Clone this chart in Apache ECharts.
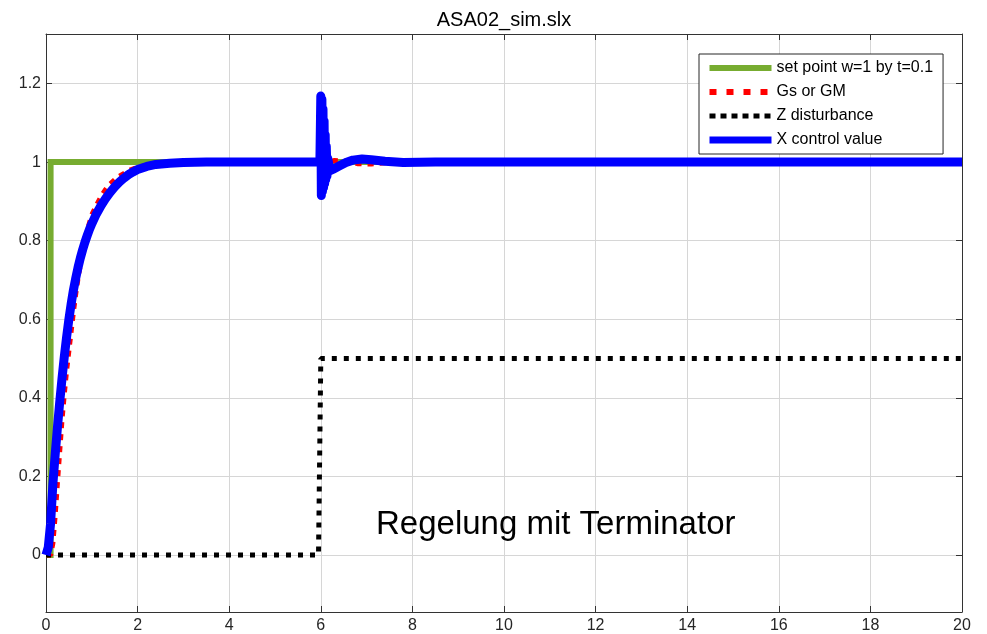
<!DOCTYPE html>
<html>
<head>
<meta charset="utf-8">
<title>ASA02_sim.slx</title>
<script src="https://cdn.jsdelivr.net/npm/echarts@6/dist/echarts.min.js"></script>
<style>
  html, body { margin: 0; padding: 0; background: #fff; }
  #chart { width: 987px; height: 634px; }
</style>
</head>
<body>
<div id="chart"></div>
<script>
// Simulation traces of ASA02_sim.slx (time in seconds)

// set point: unit step at t = 0.1
const setPointT = [0, 0.1, 0.1, 20];
const setPointV = [0, 0, 1, 1];

// reference model response Gs / GM
const gsT = [0, 0.1, 0.15, 0.2, 0.25, 0.3, 0.35, 0.4, 0.45, 0.5, 0.55, 0.6, 0.65, 0.7, 0.8, 0.9, 1.0, 1.1, 1.2, 1.3, 1.4, 1.5, 1.6, 1.8, 2.0, 2.3, 2.6, 3.0, 3.5, 4.0,
             5.98, 6.05, 6.1, 6.3, 6.5, 6.8, 7.1, 7.5, 8.0, 20];
const gsV = [0, 0, 0.03, 0.1, 0.185, 0.265, 0.345, 0.41, 0.47, 0.52, 0.57, 0.62, 0.665, 0.705, 0.772, 0.826, 0.866, 0.89, 0.912, 0.93, 0.944, 0.955, 0.964, 0.978, 0.987, 0.993, 0.996, 0.998, 0.999, 1,
             1, 0.995, 0.998, 1.004, 1.003, 0.996, 0.995, 0.999, 1, 1];

// disturbance Z: step of 0.5 at t = 6
const distT = [0, 5.95, 6.0, 20];
const distV = [0, 0, 0.5, 0.5];

// controlled variable X
const ctrlT = [0, 0.05, 0.1, 0.15, 0.2, 0.25, 0.3, 0.35, 0.4, 0.45, 0.5, 0.55, 0.6, 0.65, 0.7, 0.75, 0.8, 0.85, 0.9, 0.95, 1.0,
               1.1, 1.2, 1.3, 1.4, 1.5, 1.6, 1.7, 1.8, 1.9, 2.0, 2.2, 2.4, 2.7, 3.0, 3.5, 4.0, 5.0, 5.98,
               6.0, 6.012, 6.024, 6.036, 6.048, 6.06, 6.072, 6.084, 6.096, 6.108, 6.12, 6.135, 6.15,
               6.2, 6.27, 6.4, 6.55, 6.7, 6.9, 7.1, 7.4, 7.8, 8.5, 20];
const ctrlV = [0, 0.02, 0.08, 0.18, 0.255, 0.325, 0.39, 0.45, 0.505, 0.555, 0.6, 0.64, 0.675, 0.705, 0.732, 0.756, 0.777, 0.796, 0.813, 0.829, 0.843,
               0.868, 0.889, 0.907, 0.923, 0.937, 0.949, 0.959, 0.968, 0.975, 0.981, 0.989, 0.994, 0.997, 0.999, 1.0, 1.0, 1.0, 1.0,
               1.168, 0.915, 1.16, 0.925, 1.135, 0.935, 1.105, 0.945, 1.07, 0.955, 1.04, 0.965, 1.01,
               0.978, 0.982, 0.99, 0.999, 1.005, 1.008, 1.006, 1.002, 0.999, 1.0, 1.0];

const xTickStep = 2;
const yTickStep = 0.2;

const zip = (t, v) => t.map((x, i) => [x, v[i]]);

const FONT = "'Liberation Sans', Arial, Helvetica, sans-serif";
const AXIS_COLOR = '#333333';
const TEXT_COLOR = '#262626';
const GRID_COLOR = '#d6d6d6';

const GREEN = '#77AC30';
const RED = '#FF0000';
const BLACK = '#000000';
const BLUE = '#0000FF';

const chart = echarts.init(document.getElementById('chart'), null, { renderer: 'canvas' });

// only label the 0.2 steps, not the axis extents
const yLabel = v => {
  const k = v / yTickStep;
  if (Math.abs(k - Math.round(k)) > 1e-6) return '';
  return String(Number(v.toFixed(1)));
};

const option = {
  animation: false,
  backgroundColor: '#ffffff',
  textStyle: { fontFamily: FONT },
  grid: { left: 46, right: 25, top: 34, bottom: 22, containLabel: false },
  legend: {
    orient: 'vertical',
    left: 699,
    top: 54,
    itemWidth: 62,
    itemHeight: 14,
    itemGap: 8,
    padding: [6, 10, 6, 7],
    backgroundColor: '#ffffff',
    borderColor: '#262626',
    borderWidth: 1,
    borderRadius: 0,
    itemStyle: { opacity: 0, borderWidth: 0 },
    textStyle: { fontFamily: FONT, fontSize: 16, color: '#000000' },
    data: [
      { name: 'set point w=1 by t=0.1', lineStyle: { color: GREEN, width: 6, type: 'solid', cap: 'butt' } },
      { name: 'Gs or GM', lineStyle: { color: RED, width: 6, type: [7, 10], cap: 'butt' } },
      { name: 'Z disturbance', lineStyle: { color: BLACK, width: 5, type: [6, 5], cap: 'butt' } },
      { name: 'X control value', lineStyle: { color: BLUE, width: 7, type: 'solid', cap: 'butt' } }
    ]
  },
  xAxis: [
    {
      type: 'value', min: 0, max: 20, interval: xTickStep, position: 'bottom',
      axisLine: { show: true, onZero: false, lineStyle: { color: AXIS_COLOR, width: 1 } },
      axisTick: { show: true, inside: true, length: 6, lineStyle: { color: AXIS_COLOR } },
      axisLabel: { color: TEXT_COLOR, fontSize: 16, fontFamily: FONT, margin: 6 },
      splitLine: { show: true, lineStyle: { color: GRID_COLOR, width: 1 } }
    },
    {
      type: 'value', min: 0, max: 20, interval: xTickStep, position: 'top',
      axisLine: { show: true, onZero: false, lineStyle: { color: AXIS_COLOR, width: 1 } },
      axisTick: { show: true, inside: true, length: 6, lineStyle: { color: AXIS_COLOR } },
      axisLabel: { show: false },
      splitLine: { show: false }
    }
  ],
  yAxis: [
    {
      type: 'value', min: -0.145, max: 1.326, splitNumber: 7, position: 'left',
      axisLine: { show: true, onZero: false, lineStyle: { color: AXIS_COLOR, width: 1 } },
      axisTick: { show: true, inside: true, length: 6, lineStyle: { color: AXIS_COLOR } },
      axisLabel: { color: TEXT_COLOR, fontSize: 16, fontFamily: FONT, margin: 5, formatter: yLabel,
                   showMinLabel: false, showMaxLabel: false },
      splitLine: { show: true, lineStyle: { color: GRID_COLOR, width: 1 } }
    },
    {
      type: 'value', min: -0.145, max: 1.326, splitNumber: 7, position: 'right',
      axisLine: { show: true, onZero: false, lineStyle: { color: AXIS_COLOR, width: 1 } },
      axisTick: { show: true, inside: true, length: 6, lineStyle: { color: AXIS_COLOR } },
      axisLabel: { show: false },
      splitLine: { show: false }
    }
  ],
  graphic: [
    {
      type: 'text', x: 504, y: 20, z: 100,
      style: { text: 'ASA02_sim.slx', fontFamily: FONT, fontSize: 20, fill: '#000000',
               align: 'center', verticalAlign: 'middle' }
    },
    {
      type: 'text', x: 376, y: 525, z: 100,
      style: { text: 'Regelung mit Terminator', fontFamily: FONT, fontSize: 33, fill: '#000000',
               align: 'left', verticalAlign: 'middle' }
    }
  ],
  series: [
    {
      name: 'set point w=1 by t=0.1', type: 'line', xAxisIndex: 0, yAxisIndex: 0,
      data: zip(setPointT, setPointV), symbol: 'none', silent: true,
      lineStyle: { color: GREEN, width: 6, cap: 'butt', join: 'miter' },
      itemStyle: { color: GREEN }
    },
    {
      name: 'Gs or GM', type: 'line', xAxisIndex: 0, yAxisIndex: 0,
      data: zip(gsT, gsV), symbol: 'none', silent: true,
      lineStyle: { color: RED, width: 5, type: [6, 6], cap: 'butt' },
      itemStyle: { color: RED }
    },
    {
      name: 'Z disturbance', type: 'line', xAxisIndex: 0, yAxisIndex: 0,
      data: zip(distT, distV), symbol: 'none', silent: true,
      lineStyle: { color: BLACK, width: 5, type: [5, 7], cap: 'butt' },
      itemStyle: { color: BLACK }
    },
    {
      name: 'X control value', type: 'line', xAxisIndex: 0, yAxisIndex: 0,
      data: zip(ctrlT, ctrlV), symbol: 'none', silent: true,
      lineStyle: { color: BLUE, width: 9, cap: 'butt', join: 'round' },
      itemStyle: { color: BLUE }
    }
  ]
};

chart.setOption(option);
</script>
</body>
</html>
